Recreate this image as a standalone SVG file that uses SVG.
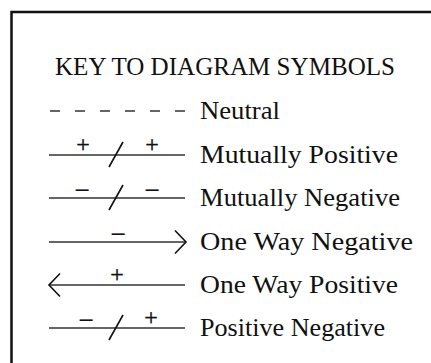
<svg xmlns="http://www.w3.org/2000/svg" width="431" height="363" viewBox="0 0 431 363">
<style>
.lbl{font-family:"Liberation Serif","Times New Roman",serif;font-size:26px;fill:#111}
.ttl{font-family:"Liberation Serif","Times New Roman",serif;font-size:26px;fill:#111}
.sym{font-family:"Liberation Serif","Times New Roman",serif;font-size:24px;fill:#111;stroke:#111;stroke-width:0.4;text-anchor:middle}
.mn{font-size:27px}
.ln{stroke:#333;stroke-width:1.5;fill:none}
.sl{stroke:#111;stroke-width:1.6;fill:none}
.frame{stroke:#111;stroke-width:2.5;fill:none}
</style>
<rect width="431" height="363" fill="#fff"/>
<path class="frame" d="M11.5 363 V12 H431"/>
<g id="title"><text class="ttl" x="55" y="75" textLength="340" lengthAdjust="spacingAndGlyphs">KEY TO DIAGRAM SYMBOLS</text></g>
<g id="connectors">
<g id="neutral-sym"><path class="ln" d="M50 111h10M75 111h10M100 111h10M125 111h10M150 111h10M175 111h10"/></g>
<g id="mutpos-sym"><path class="ln" d="M49 155H185"/><path class="sl" d="M109 167L123 142"/><text class="sym" x="83" y="152">+</text><text class="sym" x="152" y="152">+</text></g>
<g id="mutneg-sym"><path class="ln" d="M49 198H185"/><path class="sl" d="M109 210L123 185"/><text class="sym mn" x="82" y="199">−</text><text class="sym mn" x="152" y="199">−</text></g>
<g id="owneg-sym"><path class="ln" d="M49 242H185"/><path class="sl" d="M175 230.5L186 242L175 253.5"/><text class="sym mn" x="118" y="243">−</text></g>
<g id="owpos-sym"><path class="ln" d="M49 285H185"/><path class="sl" d="M60 273.5L49 285L60 296.5"/><text class="sym" x="117" y="282">+</text></g>
<g id="posneg-sym"><path class="ln" d="M49 328H185"/><path class="sl" d="M109 340L123 315"/><text class="sym mn" x="86" y="329">−</text><text class="sym" x="151" y="325">+</text></g>
</g>
<g id="neutral"><text class="lbl" x="200" y="119" textLength="80" lengthAdjust="spacingAndGlyphs">Neutral</text></g>
<g id="mutually-positive"><text class="lbl" x="200" y="163" textLength="198" lengthAdjust="spacingAndGlyphs">Mutually Positive</text></g>
<g id="mutually-negative"><text class="lbl" x="200" y="206" textLength="200" lengthAdjust="spacingAndGlyphs">Mutually Negative</text></g>
<g id="one-way-negative"><text class="lbl" x="200" y="250" textLength="213" lengthAdjust="spacingAndGlyphs">One Way Negative</text></g>
<g id="one-way-positive"><text class="lbl" x="200" y="293" textLength="198" lengthAdjust="spacingAndGlyphs">One Way Positive</text></g>
<g id="positive-negative"><text class="lbl" x="200" y="336" textLength="185" lengthAdjust="spacingAndGlyphs">Positive Negative</text></g>
</svg>
